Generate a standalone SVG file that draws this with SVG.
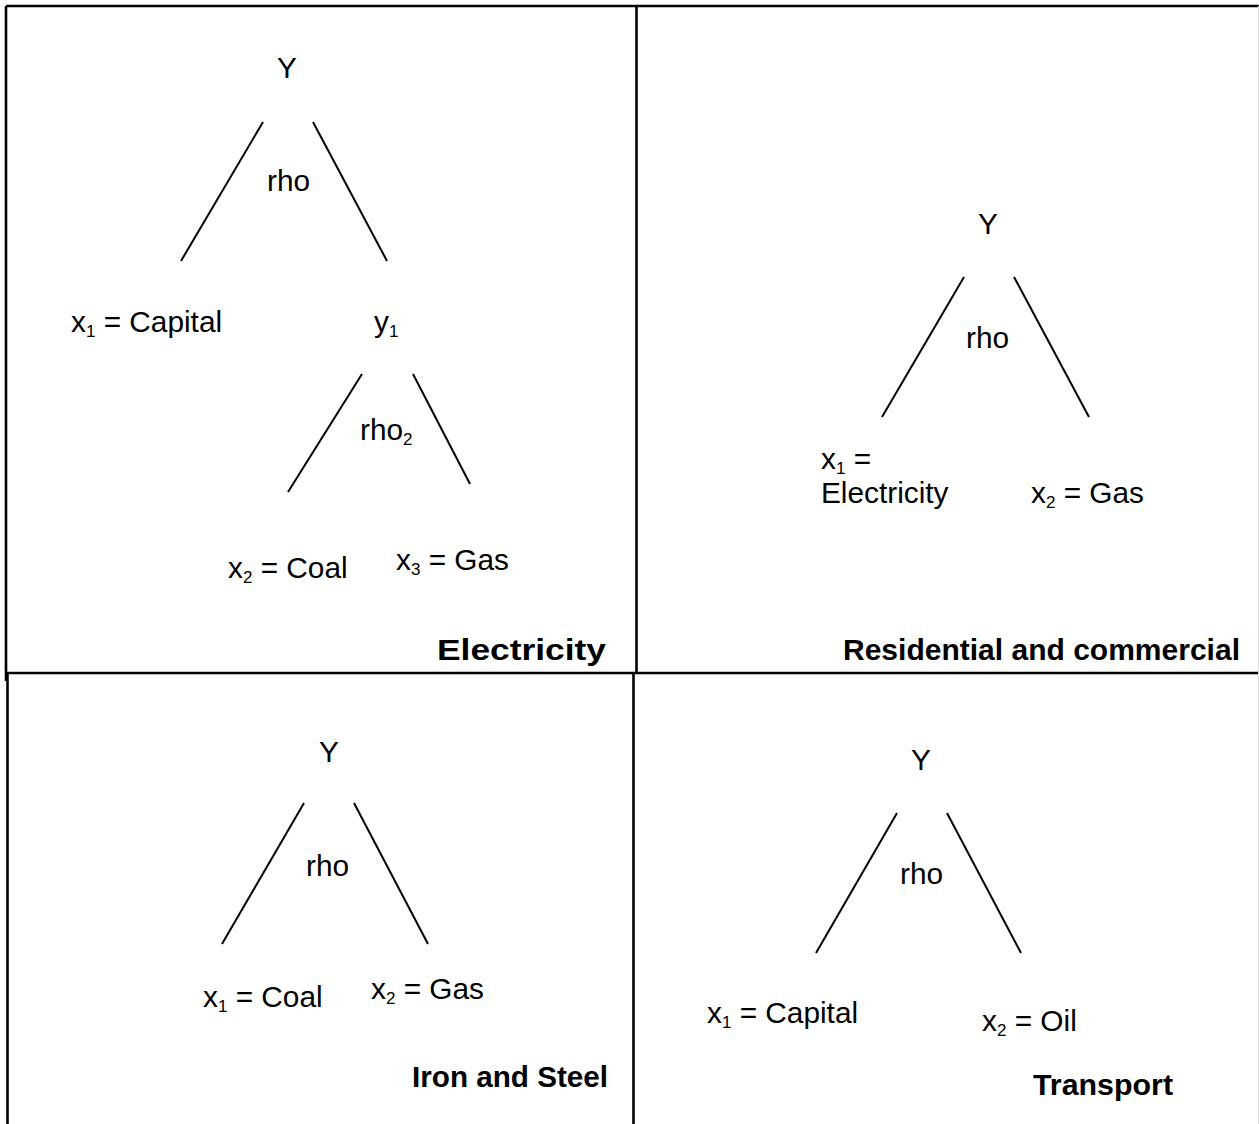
<svg xmlns="http://www.w3.org/2000/svg" width="1259" height="1124" viewBox="0 0 1259 1124">
<style>
.t{font-family:"Liberation Sans",Arial,sans-serif;font-size:29.8px;fill:#000}
.b{font-family:"Liberation Sans",Arial,sans-serif;font-size:30px;font-weight:bold;fill:#000}
.s{font-size:17px}
.c{text-anchor:middle}
.ln{stroke:#000;stroke-width:2;fill:none}
.bd{stroke:#000;stroke-width:2.6;fill:none}
</style>
<rect width="1259" height="1124" fill="#fff"/>
<g id="frame">
<line class="bd" x1="6" y1="6" x2="1259" y2="6"/>
<line class="bd" x1="6" y1="6" x2="6" y2="681"/>
<line class="bd" x1="6" y1="673" x2="1259" y2="673"/>
<line class="bd" x1="636.5" y1="6" x2="636.5" y2="673"/>
<line class="bd" x1="7.5" y1="673" x2="7.5" y2="1124"/>
<line class="bd" x1="633.5" y1="673" x2="633.5" y2="1124"/>
<line x1="1258.5" y1="6" x2="1258.5" y2="1124" stroke="#ddd" stroke-width="1"/>
</g>
<g id="connectors">
<line class="ln" x1="263" y1="122" x2="181" y2="261"/>
<line class="ln" x1="313" y1="122" x2="387" y2="261"/>
<line class="ln" x1="362" y1="374" x2="288" y2="492"/>
<line class="ln" x1="413" y1="374" x2="470" y2="484"/>
<line class="ln" x1="964" y1="277" x2="882" y2="417"/>
<line class="ln" x1="1014" y1="277" x2="1089" y2="417"/>
<line class="ln" x1="304" y1="803" x2="222" y2="944"/>
<line class="ln" x1="354" y1="803" x2="428" y2="944"/>
<line class="ln" x1="897" y1="813" x2="816" y2="953"/>
<line class="ln" x1="947" y1="813" x2="1021" y2="953"/>
</g>
<g id="electricity">
<text class="t c" x="287" y="78">Y</text>
<text class="t" x="267" y="191">rho</text>
<text class="t" x="71" y="332">x<tspan class="s" dy="5">1</tspan><tspan dy="-5"> = Capital</tspan></text>
<text class="t" x="374" y="332">y<tspan class="s" dy="5">1</tspan></text>
<text class="t" x="360" y="440">rho<tspan class="s" dy="5">2</tspan></text>
<text class="t" x="228" y="578">x<tspan class="s" dy="5">2</tspan><tspan dy="-5"> = Coal</tspan></text>
<text class="t" x="396" y="570">x<tspan class="s" dy="5">3</tspan><tspan dy="-5"> = Gas</tspan></text>
<text class="b" x="437" y="660" textLength="169" lengthAdjust="spacingAndGlyphs">Electricity</text>
</g>
<g id="residential">
<text class="t c" x="988" y="234">Y</text>
<text class="t" x="966" y="348">rho</text>
<text class="t" x="821" y="469">x<tspan class="s" dy="5">1</tspan><tspan dy="-5"> =</tspan></text>
<text class="t" x="821" y="503">Electricity</text>
<text class="t" x="1031" y="503">x<tspan class="s" dy="5">2</tspan><tspan dy="-5"> = Gas</tspan></text>
<text class="b" x="843" y="660" textLength="397" lengthAdjust="spacing">Residential and commercial</text>
</g>
<g id="ironsteel">
<text class="t c" x="329" y="762">Y</text>
<text class="t" x="306" y="876">rho</text>
<text class="t" x="203" y="1007">x<tspan class="s" dy="5">1</tspan><tspan dy="-5"> = Coal</tspan></text>
<text class="t" x="371" y="999">x<tspan class="s" dy="5">2</tspan><tspan dy="-5"> = Gas</tspan></text>
<text class="b" x="412" y="1087" textLength="196" lengthAdjust="spacingAndGlyphs">Iron and Steel</text>
</g>
<g id="transport">
<text class="t c" x="921" y="770">Y</text>
<text class="t" x="900" y="884">rho</text>
<text class="t" x="707" y="1023">x<tspan class="s" dy="5">1</tspan><tspan dy="-5"> = Capital</tspan></text>
<text class="t" x="982" y="1031">x<tspan class="s" dy="5">2</tspan><tspan dy="-5"> = Oil</tspan></text>
<text class="b" x="1033" y="1095" textLength="140" lengthAdjust="spacingAndGlyphs">Transport</text>
</g>
</svg>
